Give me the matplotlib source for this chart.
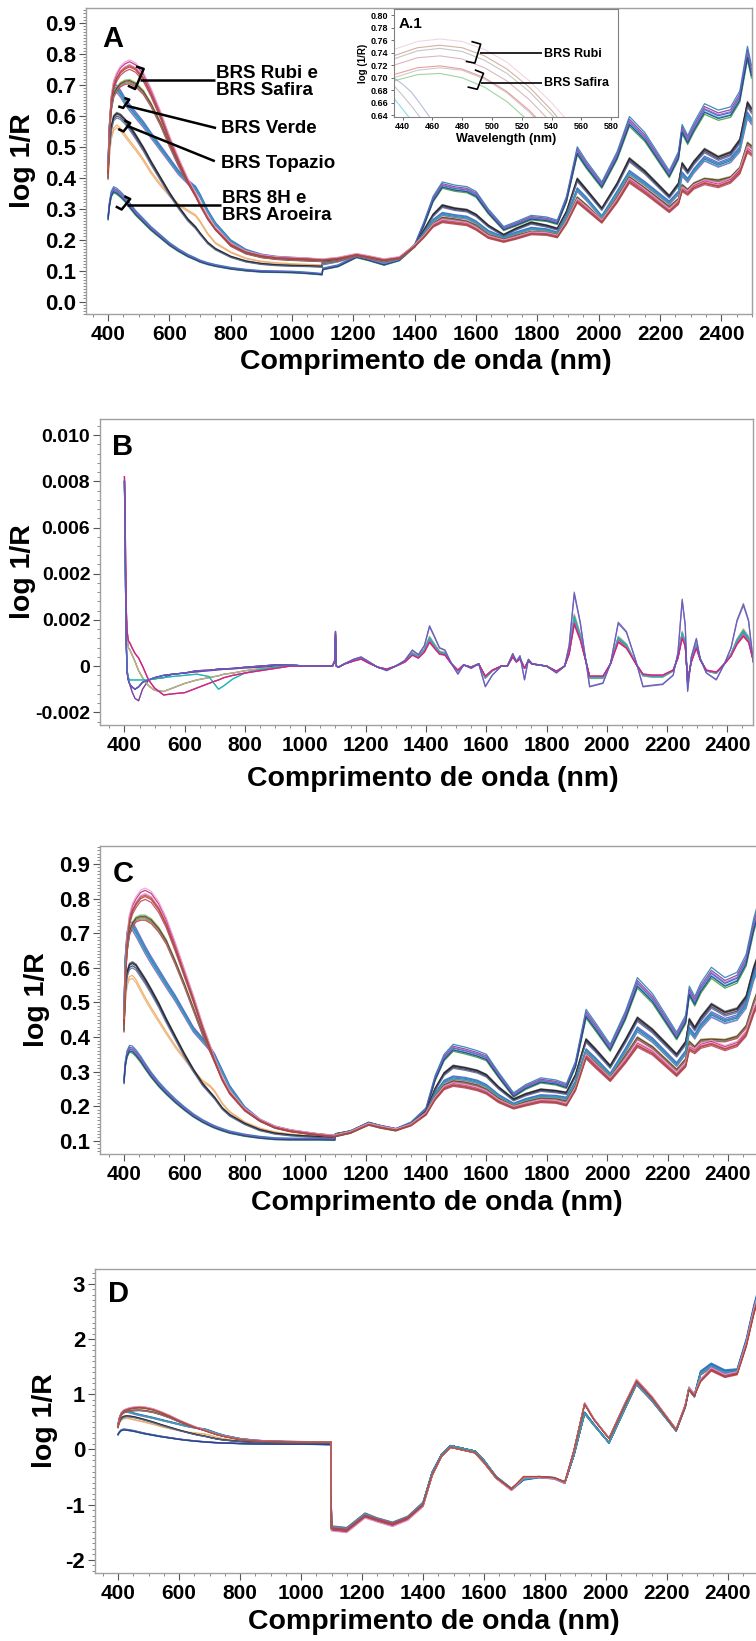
"""
Spectra of coloured cotton cultivars (raw, derivative, smoothed, transformed).
"""

import numpy as np
import matplotlib.pyplot as plt
from matplotlib.ticker import AutoMinorLocator, MultipleLocator, FixedLocator, FixedFormatter

plt.rcParams["font.family"] = ["Liberation Sans", "DejaVu Sans"]
plt.rcParams["font.weight"] = "bold"
plt.rcParams["axes.unicode_minus"] = False

# ---------------------------------------------------------------- data
VIS_WL = [400, 404, 410, 418, 428, 440, 455, 470, 490, 515, 540, 570, 600,
          630, 660, 685, 700, 725, 750, 800, 850, 900, 950, 1000, 1050, 1098]
NIR_WL = [1100, 1150, 1210, 1250, 1300, 1350, 1400, 1430, 1460, 1490, 1530, 1570,
          1600, 1640, 1690, 1730, 1780, 1830, 1865, 1895, 1930, 1960, 2010, 2060,
          2100, 2150, 2230, 2260, 2272, 2290, 2310, 2345, 2390, 2430, 2460, 2485, 2498]

# panel A, visible part, one list per cultivar bundle
A_VIS_RUBI = [0.42, 0.55, 0.65, 0.70, 0.725, 0.745, 0.758, 0.765, 0.755, 0.725, 0.675, 0.605, 0.525,
              0.455, 0.39, 0.345, 0.315, 0.27, 0.235, 0.185, 0.16, 0.148, 0.142, 0.14, 0.138, 0.135]
A_VIS_SAFIRA = [0.40, 0.53, 0.62, 0.665, 0.685, 0.70, 0.708, 0.71, 0.70, 0.675, 0.635, 0.575, 0.505,
                0.44, 0.385, 0.345, 0.315, 0.27, 0.235, 0.18, 0.155, 0.143, 0.137, 0.134, 0.132, 0.13]
A_VIS_VERDE = [0.45, 0.56, 0.64, 0.68, 0.685, 0.67, 0.645, 0.625, 0.60, 0.57, 0.535, 0.495, 0.455,
               0.415, 0.385, 0.365, 0.34, 0.29, 0.25, 0.195, 0.165, 0.15, 0.143, 0.14, 0.137, 0.133]
A_VIS_TOPAZIO = [0.43, 0.50, 0.56, 0.595, 0.605, 0.60, 0.585, 0.565, 0.535, 0.495, 0.45, 0.40, 0.35,
                 0.305, 0.265, 0.24, 0.22, 0.19, 0.17, 0.145, 0.13, 0.122, 0.118, 0.116, 0.115, 0.113]
A_VIS_ORANGE = [0.40, 0.47, 0.53, 0.56, 0.57, 0.56, 0.54, 0.52, 0.495, 0.46, 0.42, 0.38, 0.345,
                0.315, 0.295, 0.28, 0.26, 0.22, 0.19, 0.16, 0.14, 0.13, 0.125, 0.122, 0.12, 0.118]
A_VIS_8H = [0.27, 0.31, 0.345, 0.36, 0.355, 0.345, 0.33, 0.31, 0.285, 0.26, 0.235, 0.21, 0.185,
            0.165, 0.148, 0.137, 0.13, 0.122, 0.116, 0.107, 0.101, 0.097, 0.096, 0.095, 0.092, 0.088]

# panel A, NIR part
A_NIR_N1 = [0.105, 0.115, 0.145, 0.135, 0.12, 0.135, 0.18, 0.25, 0.33, 0.375, 0.365, 0.36, 0.345,
            0.29, 0.235, 0.25, 0.27, 0.265, 0.255, 0.33, 0.485, 0.44, 0.375, 0.47, 0.58, 0.53,
            0.41, 0.47, 0.555, 0.52, 0.56, 0.62, 0.60, 0.61, 0.66, 0.80, 0.74]
A_NIR_N2 = [0.13, 0.135, 0.15, 0.14, 0.13, 0.14, 0.18, 0.23, 0.28, 0.31, 0.30, 0.295, 0.28,
            0.245, 0.215, 0.235, 0.255, 0.245, 0.235, 0.29, 0.395, 0.36, 0.30, 0.38, 0.46, 0.42,
            0.34, 0.38, 0.445, 0.42, 0.45, 0.49, 0.465, 0.48, 0.52, 0.64, 0.62]
A_NIR_N3 = [0.12, 0.13, 0.148, 0.14, 0.125, 0.138, 0.18, 0.22, 0.26, 0.282, 0.275, 0.27, 0.255,
            0.225, 0.205, 0.22, 0.235, 0.23, 0.22, 0.27, 0.36, 0.33, 0.272, 0.35, 0.415, 0.38,
            0.318, 0.35, 0.41, 0.39, 0.42, 0.46, 0.44, 0.455, 0.49, 0.60, 0.58]
A_NIR_N4 = [0.125, 0.132, 0.148, 0.14, 0.13, 0.14, 0.18, 0.215, 0.25, 0.27, 0.265, 0.258, 0.245,
            0.215, 0.2, 0.212, 0.225, 0.222, 0.215, 0.26, 0.335, 0.31, 0.262, 0.335, 0.40, 0.365,
            0.305, 0.33, 0.375, 0.36, 0.38, 0.395, 0.39, 0.40, 0.43, 0.51, 0.50]
A_NIR_N5 = [0.135, 0.14, 0.152, 0.145, 0.135, 0.142, 0.18, 0.21, 0.245, 0.26, 0.255, 0.25, 0.235,
            0.208, 0.195, 0.205, 0.22, 0.218, 0.21, 0.255, 0.325, 0.30, 0.258, 0.325, 0.39, 0.355,
            0.293, 0.32, 0.362, 0.35, 0.37, 0.385, 0.375, 0.39, 0.42, 0.49, 0.48]

# panel C (smoothed spectra)
C_VIS_RUBI = [0.445, 0.58, 0.68, 0.74, 0.77, 0.79, 0.808, 0.814, 0.805, 0.775, 0.73, 0.66, 0.585,
              0.51, 0.43, 0.37, 0.335, 0.28, 0.24, 0.19, 0.16, 0.14, 0.13, 0.124, 0.118, 0.114]
C_VIS_SAFIRA = [0.42, 0.56, 0.65, 0.70, 0.725, 0.74, 0.745, 0.745, 0.735, 0.71, 0.675, 0.615, 0.55,
                0.48, 0.41, 0.36, 0.33, 0.28, 0.24, 0.19, 0.158, 0.138, 0.128, 0.122, 0.117, 0.113]
C_VIS_VERDE = [0.483, 0.62, 0.69, 0.715, 0.718, 0.70, 0.675, 0.65, 0.62, 0.585, 0.55, 0.51, 0.465,
               0.42, 0.39, 0.365, 0.345, 0.30, 0.255, 0.195, 0.16, 0.14, 0.13, 0.123, 0.118, 0.114]
C_VIS_TOPAZIO = [0.435, 0.53, 0.585, 0.607, 0.612, 0.605, 0.585, 0.565, 0.535, 0.495, 0.45, 0.40, 0.35,
                 0.305, 0.265, 0.24, 0.225, 0.195, 0.175, 0.15, 0.132, 0.122, 0.117, 0.114, 0.112, 0.11]
C_VIS_ORANGE = [0.42, 0.50, 0.555, 0.575, 0.578, 0.565, 0.54, 0.515, 0.485, 0.45, 0.415, 0.375, 0.34,
                0.305, 0.275, 0.26, 0.245, 0.21, 0.185, 0.155, 0.137, 0.126, 0.12, 0.116, 0.113, 0.11]
C_VIS_8H = [0.272, 0.32, 0.35, 0.365, 0.363, 0.352, 0.335, 0.315, 0.29, 0.263, 0.24, 0.215, 0.193,
            0.173, 0.157, 0.146, 0.14, 0.132, 0.125, 0.116, 0.11, 0.106, 0.105, 0.105, 0.105, 0.104]

C_NIR_N1 = [0.115, 0.125, 0.15, 0.14, 0.132, 0.15, 0.19, 0.28, 0.34, 0.368, 0.36, 0.35, 0.34,
            0.29, 0.232, 0.255, 0.274, 0.268, 0.258, 0.32, 0.466, 0.43, 0.368, 0.46, 0.555, 0.51,
            0.402, 0.45, 0.531, 0.502, 0.54, 0.584, 0.555, 0.57, 0.62, 0.72, 0.76]
C_NIR_N2 = [0.12, 0.128, 0.152, 0.143, 0.134, 0.15, 0.185, 0.25, 0.295, 0.316, 0.31, 0.302, 0.29,
            0.255, 0.22, 0.235, 0.248, 0.244, 0.239, 0.29, 0.392, 0.365, 0.316, 0.39, 0.454, 0.42,
            0.349, 0.385, 0.45, 0.426, 0.455, 0.493, 0.47, 0.48, 0.515, 0.598, 0.63]
C_NIR_N3 = [0.118, 0.127, 0.15, 0.142, 0.133, 0.148, 0.18, 0.235, 0.27, 0.282, 0.278, 0.27, 0.258,
            0.23, 0.205, 0.218, 0.229, 0.227, 0.222, 0.268, 0.359, 0.335, 0.29, 0.36, 0.421, 0.39,
            0.32, 0.355, 0.42, 0.40, 0.43, 0.464, 0.445, 0.455, 0.49, 0.57, 0.60]
C_NIR_N4 = [0.118, 0.127, 0.15, 0.142, 0.133, 0.148, 0.18, 0.228, 0.26, 0.272, 0.268, 0.26, 0.248,
            0.222, 0.2, 0.212, 0.222, 0.22, 0.214, 0.258, 0.35, 0.325, 0.282, 0.345, 0.397, 0.37,
            0.305, 0.335, 0.385, 0.37, 0.39, 0.392, 0.39, 0.40, 0.43, 0.50, 0.53]
C_NIR_N5 = [0.115, 0.125, 0.148, 0.14, 0.132, 0.146, 0.178, 0.222, 0.253, 0.263, 0.258, 0.25, 0.24,
            0.215, 0.196, 0.205, 0.215, 0.213, 0.205, 0.25, 0.344, 0.318, 0.277, 0.33, 0.378, 0.355,
            0.292, 0.32, 0.368, 0.359, 0.375, 0.383, 0.368, 0.38, 0.41, 0.474, 0.50]

# panel D, NIR part (visible part is the same as panel A)
D_NIR_WARM = [-1.45, -1.48, -1.22, -1.29, -1.37, -1.26, -1.02, -0.47, -0.13, 0.04, -0.01, -0.06, -0.24,
              -0.52, -0.73, -0.5, -0.5, -0.52, -0.6, -0.02, 0.83, 0.55, 0.2, 0.8, 1.25, 0.95,
              0.36, 0.8, 1.1, 0.99, 1.25, 1.45, 1.33, 1.38, 1.9, 2.5, 2.75]
D_NIR_COOL = [-1.42, -1.45, -1.18, -1.27, -1.35, -1.24, -0.98, -0.42, -0.1, 0.07, 0.02, -0.03, -0.2,
              -0.5, -0.72, -0.54, -0.5, -0.52, -0.6, -0.1, 0.66, 0.45, 0.12, 0.72, 1.2, 0.9,
              0.34, 0.78, 1.1, 0.97, 1.38, 1.52, 1.4, 1.42, 1.95, 2.55, 2.8]

# panel B (derivative), values in units of 1e-3
B_VIS_WL = [400, 402, 404, 406, 409, 413, 418, 425, 435, 447, 460, 480, 500, 530, 560, 600, 640,
            680, 700, 712, 730, 760, 800, 850, 900, 950, 1000, 1050, 1090, 1097, 1100, 1103, 1110]
B_VIS_PINK = [8.2, 7.0, 4.5, 2.5, 1.5, 1.1, 1.0, 0.8, 0.55, 0.35, 0.0, -0.6, -0.95, -1.25, -1.2, -1.15,
              -0.95, -0.75, -0.65, -0.6, -0.5, -0.4, -0.3, -0.2, -0.1, 0.0, 0.0, 0.0, 0.0, 0.2, 1.4, 0.0, -0.05]
B_VIS_GREEN = [8.0, 6.5, 4.0, 2.2, 1.2, 0.8, 0.7, 0.5, 0.2, -0.2, -0.5, -0.85, -1.05, -1.1, -0.95, -0.75,
               -0.6, -0.5, -0.45, -0.42, -0.35, -0.3, -0.2, -0.12, -0.05, 0.0, 0.0, 0.0, 0.0, 0.2, 1.3, 0.0, -0.05]
B_VIS_CYAN = [7.8, 6.0, 3.0, 1.0, -0.2, -0.5, -0.6, -0.6, -0.6, -0.6, -0.6, -0.6, -0.55, -0.5, -0.45, -0.4,
              -0.35, -0.45, -0.8, -1.0, -0.85, -0.55, -0.3, -0.15, -0.05, 0.05, 0.0, 0.0, 0.0, 0.2, 1.2, 0.0, -0.05]
B_VIS_PURPLE = [8.0, 6.0, 3.0, 1.0, -0.2, -0.6, -0.8, -1.1, -1.4, -1.5, -1.0, -0.6, -0.55, -0.5, -0.35, -0.3,
                -0.25, -0.2, -0.18, -0.16, -0.14, -0.12, -0.08, -0.05, 0.0, 0.05, 0.0, 0.0, 0.0, 0.2, 1.3, 0.0, -0.05]
B_VIS_BLUE = [8.0, 6.0, 3.0, 1.0, -0.3, -0.6, -0.8, -0.9, -1.0, -0.9, -0.7, -0.6, -0.5, -0.4, -0.35, -0.3,
              -0.2, -0.18, -0.15, -0.13, -0.12, -0.1, -0.05, 0.0, 0.05, 0.05, 0.0, 0.0, 0.0, 0.2, 1.5, 0.0, -0.05]

B_NIR_WL = [1130, 1160, 1185, 1210, 1240, 1270, 1300, 1330, 1355, 1375, 1395, 1412, 1428, 1445, 1463,
            1485, 1506, 1525, 1550, 1575, 1597, 1620, 1650, 1670, 1688, 1700, 1712, 1727, 1740, 1752,
            1775, 1800, 1833, 1860, 1875, 1892, 1912, 1943, 1987, 2012, 2038, 2065, 2097, 2120, 2150,
            2185, 2220, 2236, 2250, 2260, 2268, 2280, 2297, 2310, 2330, 2363, 2390, 2412, 2432, 2453,
            2470, 2485, 2498]
B_NIR_TYPICAL = [0.1, 0.25, 0.35, 0.15, -0.05, -0.15, 0.0, 0.2, 0.55, 0.4, 0.7, 1.2, 0.9, 0.6, 0.55,
                 0.1, -0.2, 0.05, -0.05, 0.1, -0.5, -0.2, 0.0, 0.0, 0.45, 0.2, 0.35, -0.1, 0.25, 0.1,
                 0.05, 0.0, -0.25, 0.0, 0.6, 2.1, 1.3, -0.5, -0.5, 0.1, 1.2, 0.9, 0.1, -0.4, -0.45,
                 -0.45, -0.2, 0.4, 1.4, 1.0, -0.7, 0.2, 0.9, 0.3, -0.2, -0.3, 0.1, 0.5, 1.1, 1.5,
                 1.2, 0.3, -0.7]
B_NIR_NAVY = [0.1, 0.3, 0.4, 0.2, -0.05, -0.2, 0.0, 0.25, 0.7, 0.5, 0.9, 1.75, 1.3, 0.8, 0.7,
              0.1, -0.35, 0.05, -0.1, 0.1, -0.9, -0.4, 0.0, 0.0, 0.55, 0.2, 0.45, -0.6, 0.3, 0.1,
              0.05, 0.0, -0.3, 0.0, 0.9, 3.2, 1.9, -0.9, -0.75, 0.1, 1.9, 1.5, 0.2, -0.9, -0.85,
              -0.8, -0.4, 0.6, 2.9, 1.8, -1.1, 0.4, 1.2, 0.3, -0.3, -0.6, 0.1, 0.8, 2.0, 2.7,
              2.0, 0.3, -0.8]
B_UNIT = 1e-3

# inset A.1
INSET_WL = [434, 450, 465, 480, 495, 510, 525, 540, 555]
INSET_RUBI = [[0.745, 0.758, 0.762, 0.758, 0.745, 0.725, 0.695, 0.66, 0.62],
              [0.735, 0.748, 0.752, 0.748, 0.735, 0.714, 0.685, 0.648, 0.605],
              [0.73, 0.743, 0.747, 0.742, 0.728, 0.707, 0.678, 0.641, 0.60],
              [0.72, 0.732, 0.735, 0.73, 0.716, 0.695, 0.665, 0.628, 0.585]]
INSET_SAFIRA = [[0.705, 0.716, 0.719, 0.714, 0.70, 0.678, 0.648, 0.61, 0.565],
                [0.695, 0.705, 0.707, 0.70, 0.685, 0.662, 0.63, 0.59, 0.545],
                [0.70, 0.712, 0.716, 0.712, 0.698, 0.676, 0.645, 0.607, 0.562]]
INSET_VERDE_WL = [434, 440, 446, 452, 458]
INSET_VERDE = [[0.70, 0.69, 0.677, 0.658, 0.638],
               [0.688, 0.672, 0.655, 0.636, 0.615],
               [0.668, 0.650, 0.632, 0.612, 0.592]]

X_TICKS = [400, 600, 800, 1000, 1200, 1400, 1600, 1800, 2000, 2200, 2400]
B_TICK_POS = [0.010, 0.008, 0.006, 0.004, 0.002, 0.0, -0.002]
B_TICK_TXT = ["0.010", "0.008", "0.006", "0.002", "0.002", "0", "-0.002"]

# ---------------------------------------------------------------- styles
RUBI_COLORS = ["#e377c2", "#d62728", "#c71585", "#b04060", "#e8a0c8", "#a0522d"]
RUBI_SCALES = [1.0, 0.99, 1.012, 0.98, 1.02, 0.995]
SAFIRA_COLORS = ["#2ca02c", "#d62728", "#66cc66", "#8b1a1a", "#808080"]
SAFIRA_SCALES = [1.0, 0.99, 1.01, 1.005, 0.995]
VERDE_COLORS = ["#1f3fbf", "#7b3294", "#17becf", "#3b5bdb", "#9467bd", "#20b2aa"]
VERDE_SCALES = [1.0, 1.01, 0.99, 1.02, 0.985, 1.005]
TOPAZIO_COLORS = ["#404040", "#27348b", "#7f7f7f", "#1a1a1a", "#5a6a8a"]
TOPAZIO_SCALES = [1.0, 0.99, 1.01, 1.005, 0.98]
ORANGE_COLORS = ["#ff9f40", "#e0b080"]
ORANGE_SCALES = [1.0, 0.985]
H8_COLORS = ["#3b3bbf", "#7b3294", "#2ca02c", "#17becf", "#1f77b4", "#9467bd", "#27348b"]
H8_SCALES = [1.0, 1.015, 0.975, 0.99, 1.03, 1.005, 0.985]

SPINE = "#a0a0a0"
LW = 0.9
TICK_FS = 15
YTICK_FS = 16
LABEL_FS = 20.5

fig = plt.figure(figsize=(7.56, 16.41), dpi=100)


def style_axes(ax, ylabel_x, xlabel_y, ytick_size=YTICK_FS):
    for side in ["top", "right", "left", "bottom"]:
        ax.spines[side].set_color(SPINE)
        ax.spines[side].set_linewidth(1.0)
    ax.xaxis.set_major_locator(FixedLocator(X_TICKS))
    ax.xaxis.set_minor_locator(AutoMinorLocator(4))
    ax.tick_params(which="major", length=5, width=0.8, color="#555555")
    ax.tick_params(which="minor", length=2.5, width=0.6, color="#777777")
    ax.tick_params(axis="x", labelsize=TICK_FS, pad=3)
    ax.tick_params(axis="y", labelsize=ytick_size, pad=2)
    ax.set_xlabel("Comprimento de onda (nm)", fontsize=LABEL_FS, fontweight="bold")
    ax.set_ylabel("log 1/R", fontsize=LABEL_FS, fontweight="bold")
    ax.xaxis.set_label_coords(0.51, xlabel_y)
    ax.yaxis.set_label_coords(ylabel_x, 0.5)


def draw_bundle(ax, wl, values, colors, scales):
    vals = np.array(values)
    for c, s in zip(colors, scales):
        ax.plot(wl, vals * s, color=c, lw=LW, alpha=0.85)


def draw_spectra(ax, vis, nir):
    wl = VIS_WL + NIR_WL
    groups = [("8h", H8_COLORS, H8_SCALES), ("orange", ORANGE_COLORS, ORANGE_SCALES),
              ("topazio", TOPAZIO_COLORS, TOPAZIO_SCALES), ("verde", VERDE_COLORS, VERDE_SCALES),
              ("safira", SAFIRA_COLORS, SAFIRA_SCALES), ("rubi", RUBI_COLORS, RUBI_SCALES)]
    for key, colors, scales in groups:
        draw_bundle(ax, wl, vis[key] + nir[key], colors, scales)


# ---------------------------------------------------------------- panel A
axA = fig.add_axes([0.1138, 0.8087, 0.881, 0.1865])
A_VIS = {"rubi": A_VIS_RUBI, "safira": A_VIS_SAFIRA, "verde": A_VIS_VERDE,
         "topazio": A_VIS_TOPAZIO, "orange": A_VIS_ORANGE, "8h": A_VIS_8H}
A_NIR = {"rubi": A_NIR_N5, "safira": A_NIR_N4, "verde": A_NIR_N3,
         "topazio": A_NIR_N2, "orange": A_NIR_N2, "8h": A_NIR_N1}
draw_spectra(axA, A_VIS, A_NIR)
axA.set_xlim(328, 2500)
axA.set_ylim(-0.04, 0.948)
axA.yaxis.set_major_locator(MultipleLocator(0.1))
axA.yaxis.set_major_formatter(plt.FormatStrFormatter("%.1f"))
axA.yaxis.set_minor_locator(AutoMinorLocator(10))
style_axes(axA, -0.075, -0.116)
axA.text(0.025, 0.945, "A", transform=axA.transAxes, fontsize=21, fontweight="bold", va="top")

# labels with brackets
ann_kw = dict(color="black", lw=1.8, solid_capstyle="butt", clip_on=False)
axA.plot([491, 516, 488, 464.5], [0.759, 0.751, 0.686, 0.697], **ann_kw)
axA.plot([504, 748], [0.716, 0.716], **ann_kw)
axA.text(751, 0.708, "BRS Rubi e\nBRS Safira", fontsize=13.5, fontweight="bold", va="center",
         linespacing=1.0)
axA.plot([453, 469, 449, 433], [0.657, 0.652, 0.625, 0.63], **ann_kw)
axA.plot([460, 752], [0.632, 0.56], **ann_kw)
axA.text(768, 0.557, "BRS Verde", fontsize=13.5, fontweight="bold", va="center")
axA.plot([453, 472, 450, 433], [0.585, 0.576, 0.549, 0.557], **ann_kw)
axA.plot([460, 748], [0.568, 0.453], **ann_kw)
axA.text(768, 0.447, "BRS Topazio", fontsize=13.5, fontweight="bold", va="center")
axA.plot([453, 472, 444, 425], [0.340, 0.331, 0.297, 0.307], **ann_kw)
axA.plot([460, 768], [0.313, 0.313], **ann_kw)
axA.text(770, 0.304, "BRS 8H e\nBRS Aroeira", fontsize=13.5, fontweight="bold", va="center",
         linespacing=1.0)

# inset A.1
axI = fig.add_axes([0.521, 0.9289, 0.2963, 0.0654])
for vals, c in zip(INSET_VERDE, ["#6a7fbf", "#8a8aa0", "#17becf"]):
    axI.plot(INSET_VERDE_WL, vals, color=c, lw=0.8, alpha=0.5)
for vals, c in zip(INSET_SAFIRA, ["#d62728", "#2ca02c", "#909090"]):
    axI.plot(INSET_WL, vals, color=c, lw=0.8, alpha=0.45)
for vals, c in zip(INSET_RUBI, ["#e8a0c8", "#a0522d", "#808080", "#b06070"]):
    axI.plot(INSET_WL, vals, color=c, lw=0.8, alpha=0.45)
axI.set_xlim(434.2, 584.4)
axI.set_ylim(0.6379, 0.8093)
axI.xaxis.set_major_locator(MultipleLocator(20))
axI.yaxis.set_major_locator(MultipleLocator(0.02))
axI.yaxis.set_major_formatter(plt.FormatStrFormatter("%.2f"))
axI.tick_params(labelsize=6.5, length=2.5, width=0.6, pad=1.5, color="#555555")
for side in ["top", "right", "left", "bottom"]:
    axI.spines[side].set_color("#808080")
    axI.spines[side].set_linewidth(0.8)
axI.set_xlabel("Wavelength (nm)", fontsize=9, fontweight="bold", labelpad=1)
axI.set_ylabel("log (1/R)", fontsize=7, fontweight="bold", labelpad=2)
axI.text(0.02, 0.93, "A.1", transform=axI.transAxes, fontsize=11, fontweight="bold", va="top")
in_kw = dict(color="black", lw=1.2, solid_capstyle="butt", clip_on=False)
axI.plot([486.2, 492.4, 488.5, 482.4], [0.758, 0.7538, 0.7235, 0.7263], **in_kw)
axI.plot([491.7, 533.7], [0.7389, 0.7389], **in_kw)
axI.text(534.7, 0.7380, "BRS Rubi", fontsize=9, fontweight="bold", va="center")
axI.plot([488.5, 494.3, 490.1, 483.6], [0.7127, 0.7071, 0.6816, 0.6854], **in_kw)
axI.plot([492.7, 533.7], [0.6919, 0.6919], **in_kw)
axI.text(534.7, 0.6910, "BRS Safira", fontsize=9, fontweight="bold", va="center")

# ---------------------------------------------------------------- panel B
axB = fig.add_axes([0.1323, 0.5582, 0.8638, 0.1865])
b_wl = B_VIS_WL + B_NIR_WL
b_groups = [(B_VIS_BLUE, B_NIR_TYPICAL, ["#3b3bbf", "#27348b"], [1.0, 0.95]),
            (B_VIS_PURPLE, B_NIR_TYPICAL, ["#9467bd", "#7b3294"], [1.0, 1.05]),
            (B_VIS_GREEN, B_NIR_TYPICAL, ["#2ca02c", "#808080", "#d2b48c"], [1.0, 0.95, 1.08]),
            (B_VIS_CYAN, B_NIR_TYPICAL, ["#17becf", "#20b2aa"], [1.0, 1.03]),
            (B_VIS_PINK, B_NIR_TYPICAL, ["#d62728", "#e377c2", "#c71585"], [0.85, 0.9, 0.88]),
            (B_VIS_BLUE, B_NIR_NAVY, ["#5a5a8a", "#6a5acd"], [1.0, 0.97])]
for vis, nir, colors, scales in b_groups:
    vals = np.array(vis + nir) * B_UNIT
    nvis = len(vis)
    for c, s in zip(colors, scales):
        # amplitude spread only in the NIR part
        y = vals.copy()
        y[nvis:] = y[nvis:] * s
        axB.plot(b_wl, y, color=c, lw=LW, alpha=0.85)
axB.set_xlim(319, 2485)
axB.set_ylim(-0.00255, 0.0107)
axB.yaxis.set_major_locator(FixedLocator(B_TICK_POS))
axB.yaxis.set_major_formatter(FixedFormatter(B_TICK_TXT))
axB.yaxis.set_minor_locator(AutoMinorLocator(5))
style_axes(axB, -0.098, -0.133, ytick_size=14)
axB.text(0.018, 0.955, "B", transform=axB.transAxes, fontsize=21, fontweight="bold", va="top")

# ---------------------------------------------------------------- panel C
axC = fig.add_axes([0.1323, 0.2968, 0.873, 0.1877])
C_VIS = {"rubi": C_VIS_RUBI, "safira": C_VIS_SAFIRA, "verde": C_VIS_VERDE,
         "topazio": C_VIS_TOPAZIO, "orange": C_VIS_ORANGE, "8h": C_VIS_8H}
C_NIR = {"rubi": C_NIR_N5, "safira": C_NIR_N4, "verde": C_NIR_N3,
         "topazio": C_NIR_N2, "orange": C_NIR_N2, "8h": C_NIR_N1}
draw_spectra(axC, C_VIS, C_NIR)
axC.set_xlim(320.5, 2506)
axC.set_ylim(0.0624, 0.952)
axC.yaxis.set_major_locator(FixedLocator([0.1, 0.2, 0.3, 0.4, 0.5, 0.6, 0.7, 0.8, 0.9]))
axC.yaxis.set_major_formatter(plt.FormatStrFormatter("%.1f"))
axC.yaxis.set_minor_locator(AutoMinorLocator(10))
style_axes(axC, -0.076, -0.116)
axC.text(0.02, 0.955, "C", transform=axC.transAxes, fontsize=21, fontweight="bold", va="top")

# ---------------------------------------------------------------- panel D
axD = fig.add_axes([0.1257, 0.0414, 0.8796, 0.1853])
D_NIR = {"rubi": D_NIR_WARM, "safira": D_NIR_WARM, "verde": D_NIR_COOL,
         "topazio": D_NIR_COOL, "orange": D_NIR_COOL, "8h": D_NIR_COOL}
draw_spectra(axD, A_VIS, D_NIR)
axD.set_xlim(324.6, 2505)
axD.set_ylim(-2.24, 3.27)
axD.yaxis.set_major_locator(MultipleLocator(1))
axD.yaxis.set_minor_locator(AutoMinorLocator(10))
style_axes(axD, -0.056, -0.118)
axD.text(0.02, 0.965, "D", transform=axD.transAxes, fontsize=21, fontweight="bold", va="top")

plt.savefig("out.png", dpi=100)
